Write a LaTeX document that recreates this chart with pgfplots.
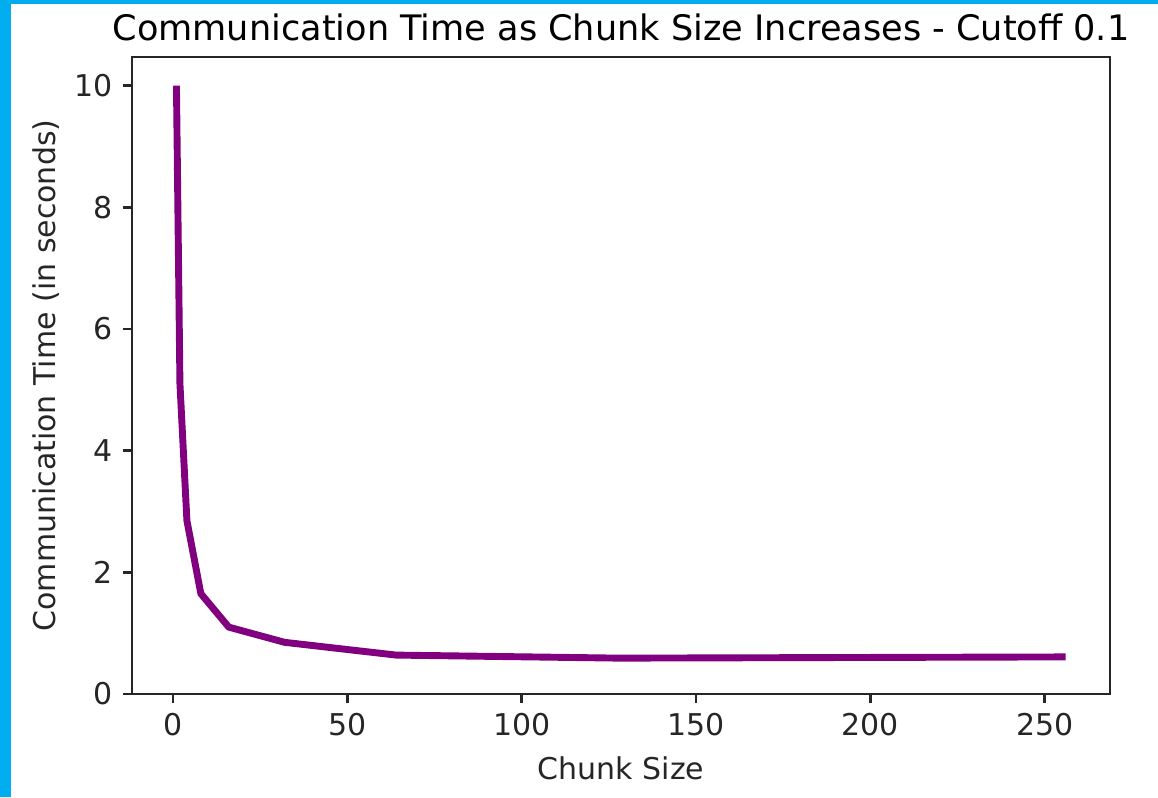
\documentclass[border=0pt]{standalone}
\usepackage{pgfplots}
\pgfplotsset{compat=1.18}
\usepackage{fontspec}
\setmainfont{DejaVu Sans}
\definecolor{mplpurple}{HTML}{800080}
\definecolor{framecyan}{HTML}{00AEEF}
\definecolor{axgray}{HTML}{262626}
\begin{document}
\begin{tikzpicture}
\useasboundingbox (0,0) rectangle (386pt,265.67pt);
\fill[framecyan] (0,0) rectangle (386pt,265.67pt);
\fill[white] (3.6pt,0) rectangle (386pt,264.3pt);
\begin{axis}[
  at={(44pt,34.33pt)}, anchor=south west,
  scale only axis, width=326pt, height=212.3pt,
  xmin=-11.75, xmax=268.75, ymin=0, ymax=10.47,
  xtick={0,50,100,150,200,250},
  ytick={0,2,4,6,8,10},
  axis line style={axgray, line width=0.9pt},
  every tick/.style={axgray, line width=0.9pt},
  tick align=outside, major tick length=3pt,
  xtick pos=bottom, ytick pos=left,
  tick label style={font=\fontsize{10}{12}\selectfont, text=axgray},
  /pgf/number format/assume math mode=true,
  xlabel={Chunk Size},
  ylabel={Communication Time (in seconds)},
  label style={font=\fontsize{10}{12}\selectfont, text=axgray},
  xlabel style={yshift=0pt},
  ylabel style={yshift=-2pt},
  title={Communication Time as Chunk Size Increases - Cutoff 0.1},
  title style={font=\fontsize{11.7}{14}\selectfont, text=black, yshift=-4pt},
]
\addplot[mplpurple, line width=2.3pt, line join=round] coordinates {
(1,10) (2,5.1) (4,2.85) (8,1.65) (16,1.10) (32,0.85) (64,0.64) (128,0.59) (256,0.61)
};
\end{axis}
\end{tikzpicture}
\end{document}
